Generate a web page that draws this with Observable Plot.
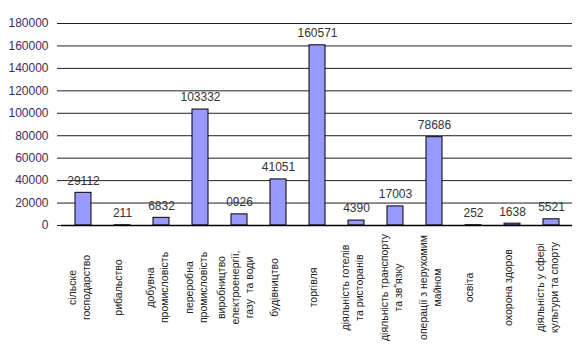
<!DOCTYPE html>
<html>
<head>
<meta charset="utf-8">
<script src="https://cdn.jsdelivr.net/npm/d3@7"></script>
<script src="https://cdn.jsdelivr.net/npm/@observablehq/plot@0.6"></script>
<style>
  html, body { margin: 0; padding: 0; background: #fff; }
  #chart { width: 576px; height: 358px; }
</style>
</head>
<body>
<div id="chart"></div>
<script>
const categories = [
  "сільске\nгосподарство",
  "рибальство",
  "добувна\nпромисловість",
  "переробна\nпромисловість",
  "виробництво\nелектроенергії,\nгазу  та води",
  "будівництво",
  "торгівля",
  "діяльність готелів\nта ристоранів",
  "діяльність транспорту\nта зв\"язку",
  "операції з нерухомим\nмайном",
  "освіта",
  "охорона здоров",
  "діяльність у сфері\nкультури та спорту"
];
const values = [29112, 211, 6832, 103332, 9926, 41051, 160571, 4390, 17003, 78686, 252, 1638, 5521];
const valueLabels = ["29112", "211", "6832", "103332", "0926", "41051", "160571", "4390", "17003", "78686", "252", "1638", "5521"];
const yTicks = [0, 20000, 40000, 60000, 80000, 100000, 120000, 140000, 160000, 180000];

const data = categories.map((c, i) => ({cat: c, value: values[i], label: valueLabels[i]}));

const chart = Plot.plot({
  width: 576,
  height: 358,
  marginLeft: 61,
  marginRight: 4,
  marginTop: 23,
  marginBottom: 133,
  style: {fontFamily: "'Liberation Sans', Arial, sans-serif", background: "#fff"},
  x: {domain: categories, paddingInner: 0.6, paddingOuter: 0.3, axis: null, label: null},
  y: {domain: [0, 180000], axis: null, label: null},
  marks: [
    Plot.gridY(yTicks, {stroke: "#222", strokeOpacity: 1}),
    Plot.axisY({
      ticks: yTicks, tickSize: 4, tickPadding: 9, line: true, label: null,
      tickFormat: d3.format("d"), fontSize: 12, color: "#3d2d5c", stroke: "#222"
    }),
    Plot.barY(data, {x: "cat", y: "value", fill: "#9999ff", stroke: "#000", strokeWidth: 1}),
    Plot.ruleY([0], {stroke: "#000", strokeWidth: 1.5}),
    Plot.text(data, {x: "cat", y: "value", text: "label", dy: -12, fontSize: 12, fill: "#333"}),
    Plot.axisX({
      tickSize: 0, tickPadding: 62, dx: -5, tickRotate: -90, textAnchor: "middle", lineAnchor: "middle",
      lineHeight: 1.35, fontSize: 10.5, fill: "#222", label: null, tickFormat: d => d
    })
  ]
});
document.getElementById("chart").appendChild(chart);
</script>
</body>
</html>
